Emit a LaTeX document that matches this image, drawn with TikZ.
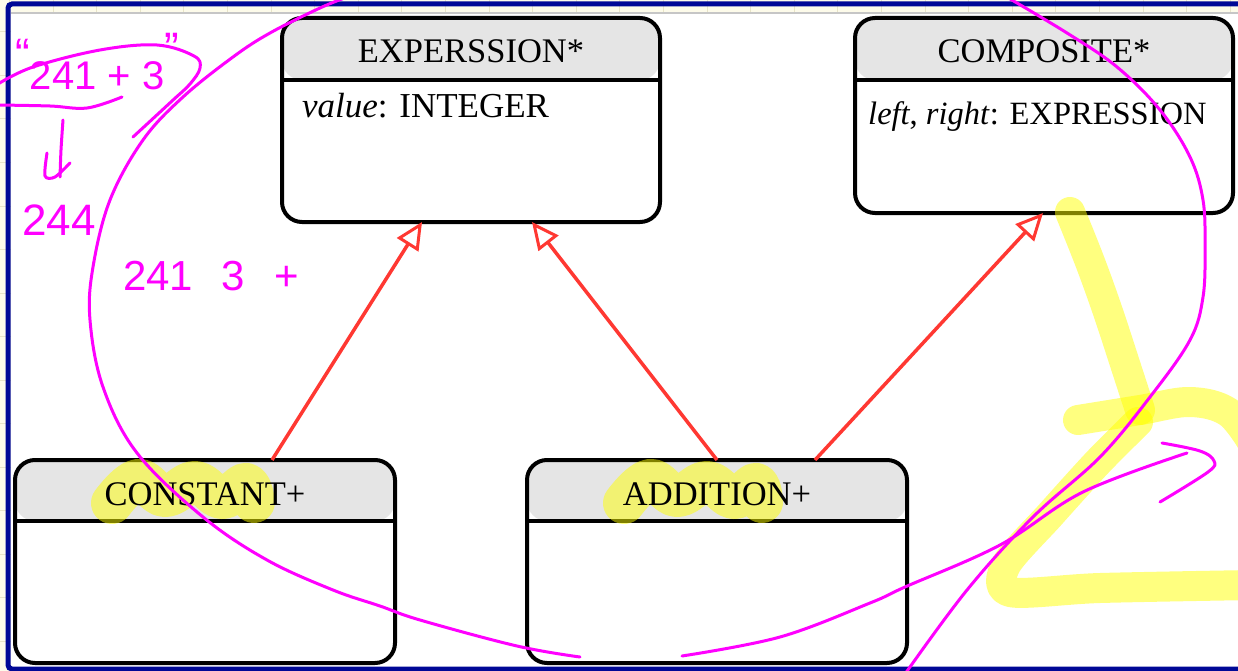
\documentclass[tikz,border=0pt]{standalone}
\usepackage{fontspec}
\setmainfont{Liberation Serif}
\newfontfamily\handfont{Liberation Sans}
\usetikzlibrary{arrows.meta,calc}
\definecolor{headgrey}{RGB}{229,229,229}
\definecolor{arrred}{RGB}{255,56,50}
\definecolor{navyframe}{RGB}{0,8,150}
\definecolor{cream}{RGB}{253,251,234}
\definecolor{gridtan}{RGB}{232,228,200}
\definecolor{pen}{RGB}{255,0,255}
\definecolor{hl}{RGB}{255,255,0}
\tikzset{
  classbox/.style={draw=black, line width=4pt, rounded corners=20pt, fill=white,
    inner sep=0pt, outer sep=0pt,
    path picture={\fill[headgrey] (path picture bounding box.north west) rectangle ([yshift=-#1]path picture bounding box.north east);}},
  divider/.style={draw=black, line width=4pt},
  titletext/.style={font=\fontsize{34.5}{40}\selectfont, anchor=base, inner sep=0pt},
  attrtext/.style={font=\fontsize{35}{40}\selectfont, anchor=base west, inner sep=0pt},
  inh/.style={draw=arrred, line width=3.5pt,
    -{Triangle[length=27pt, width=25pt, fill=white, line width=3pt]}},
  pen/.style={draw=pen, line width=3pt, line cap=round, line join=round},
  handtext/.style={text=pen, anchor=base west, inner sep=0pt},
  hlstroke/.style={draw=hl, draw opacity=0.5, line cap=round, line join=round},
}
\begin{document}
\begin{tikzpicture}[x=1pt,y=-1pt]
\useasboundingbox (0,0) rectangle (1238,671);
% screen background and frame
\fill[cream] (0,0) rectangle (1238,671);
\foreach \gx in {9.5,53.1,...,1238} \draw[gridtan, line width=1pt] (\gx,0) -- (\gx,671);
\foreach \gy in {32,75.5,...,671} \draw[gridtan, line width=1pt] (0,\gy) -- (1238,\gy);
\fill[white] (11,13) rectangle (1238,667);
\draw[gray!45, line width=1.2pt] (11,13) -- (1238,13);
\draw[navyframe, line width=5pt, rounded corners=4pt] (1242,4) -- (8,4) -- (8,669) -- (1242,669);

% class boxes
\node[classbox=62pt, minimum width=378pt, minimum height=204pt] (expr) at (471,120) {};
\node[classbox=62pt, minimum width=378pt, minimum height=195pt] (comp) at (1044,115.5) {};
\node[classbox=61pt, minimum width=380pt, minimum height=203pt] (cons) at (205,561.5) {};
\node[classbox=61pt, minimum width=380pt, minimum height=203pt] (add) at (717,561.5) {};
\draw[divider] ([yshift=-62pt]expr.north west) -- ([yshift=-62pt]expr.north east);
\draw[divider] ([yshift=-62pt]comp.north west) -- ([yshift=-62pt]comp.north east);
\draw[divider] ([yshift=-61pt]cons.north west) -- ([yshift=-61pt]cons.north east);
\draw[divider] ([yshift=-61pt]add.north west) -- ([yshift=-61pt]add.north east);

% highlighter on titles
\draw[hlstroke, line width=42pt] plot[smooth, tension=0.7] coordinates {(112,503) (138,480) (165,496) (195,482) (222,498) (246,484) (254,502)};
\draw[hlstroke, line width=42pt] plot[smooth, tension=0.7] coordinates {(624,503) (650,480) (677,496) (707,482) (734,498) (756,484) (762,502)};

% texts
\node[titletext] (exprT) at ($(expr.north)+(0,45)$) {EXPERSSION*};
\node[attrtext] (exprA) at ($(expr.north west)+(20,100)$) {\textit{value}: INTEGER};
\node[titletext] (compT) at ($(comp.north)+(0,45)$) {COMPOSITE*};
\node[attrtext, font=\fontsize{32.5}{40}\selectfont] (compA) at ($(comp.north west)+(13,107)$) {\textit{left}, \textit{right}: EXPRESSION};
\node[titletext] (consT) at ($(cons.north)+(0,45)$) {CONSTANT+};
\node[titletext] (addT) at ($(add.north)+(0,45)$) {ADDITION+};

% inheritance arrows
\draw[inh] ($(cons.north west)+(257,0)$) -- ($(expr.south west)+(140,0)$);
\draw[inh] ($(add.north west)+(190,0)$) -- ($(expr.south west)+(250,0)$);
\draw[inh] ($(add.north west)+(288,0)$) -- ($(comp.south west)+(188,0)$);

% yellow "2" scribble
\draw[hlstroke, line width=30pt] plot[smooth, tension=0.6] coordinates {(1070,212) (1090,262) (1108,312) (1127,370) (1140,410)};
\draw[hlstroke, line width=30pt] plot[smooth, tension=0.6] coordinates {(1078,420) (1140,410) (1190,402) (1228,412) (1252,442)};
\draw[hlstroke, line width=30pt] plot[smooth, tension=0.5] coordinates {(1138,422) (1098,462) (1050,515) (1006,565) (1010,592) (1100,588) (1252,585)};

% handwriting
\node[handtext, font=\handfont\fontsize{40}{48}\selectfont] (h1) at (15,90) {\raisebox{20pt}{\fontsize{44}{48}\selectfont“}241 + 3\raisebox{26pt}{\fontsize{44}{48}\selectfont”}};
\node[handtext, font=\handfont\fontsize{44}{52}\selectfont] (h2) at (22,235) {244};
\node[handtext, font=\handfont\fontsize{42}{50}\selectfont] (h3) at (123,290) {241 \hspace{17pt}3 \hspace{18pt}+};
\draw[pen] plot[smooth, tension=0.6] coordinates {(-2,84) (33,67) (100,50) (157,45) (194,56) (200,68) (190,84) (172,101) (133,137)};
\draw[pen] plot[smooth, tension=0.6] coordinates {(-2,105) (50,106) (87,108) (122,97)};
\draw[pen] plot[smooth] coordinates {(63,120) (61,150) (60,177)};
\draw[pen] plot[smooth] coordinates {(47,153) (45,176) (55,177) (70,163)};
\draw[pen] plot[smooth, tension=0.6] coordinates {(350,-4) (320,8) (270,33) (233,57) (183,97) (143,140) (110,200) (93,267) (90,320) (103,387) (137,453) (203,517) (267,560) (333,590) (380,606) (420,620) (517,646) (580,657)};
\draw[pen] plot[smooth, tension=0.6] coordinates {(1005,-4) (1067,33) (1117,67) (1160,110) (1190,157) (1203,200) (1205,247) (1203,297) (1190,340) (1150,397) (1100,457) (1033,517) (967,590) (905,674)};
\draw[pen] plot[smooth, tension=0.6] coordinates {(682,656) (780,637) (870,603) (905,587) (1000,545) (1083,492) (1187,453)};
\draw[pen] plot[smooth, tension=0.6] coordinates {(1162,443) (1200,451) (1214,461) (1208,472) (1160,502)};
\end{tikzpicture}
\end{document}
